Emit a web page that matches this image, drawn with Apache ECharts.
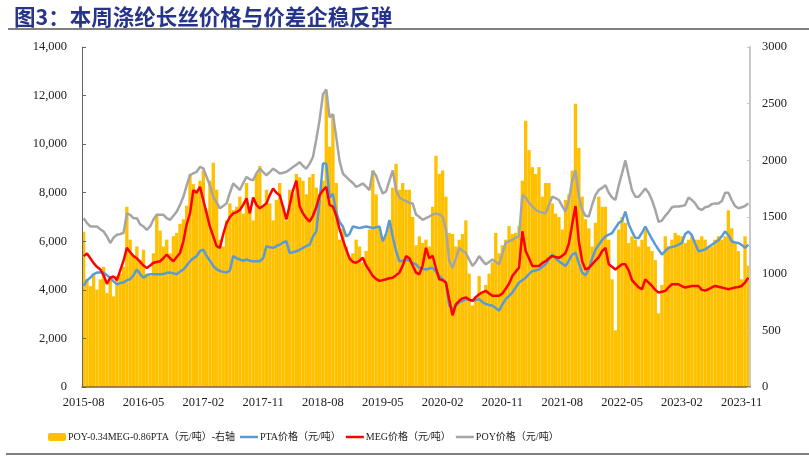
<!DOCTYPE html>
<html><head><meta charset="utf-8">
<script src="https://cdn.jsdelivr.net/npm/echarts@6/dist/echarts.min.js"></script>
<style>html,body{margin:0;padding:0;background:#fff}#c{width:809px;height:459px}</style>
</head><body><div id="c"></div>
<script>
// semi-monthly observations, 2015-08-01 .. 2023-12-01
const startYear = 2015, startMonth = 8, nMonths = 101;
const categories = [];
for (let m = 0; m < nMonths; m++) {
  const y = startYear + Math.floor((startMonth - 1 + m) / 12);
  const mo = ((startMonth - 1 + m) % 12) + 1;
  const mm = (mo < 10 ? '0' : '') + mo;
  categories.push(y + '-' + mm + '-01');
  if (m < nMonths - 1) categories.push(y + '-' + mm + '-16');
}
const spread = [ // POY-0.34MEG-0.86PTA, right axis
1370,950,890,1000,860,950,1060,830,950,800, 980,1000,1060,1590,1300,1150,1240,1120,1210,1000,
980,1180,1520,1380,1240,1300,1180,1330,1360,1440, 1480,1600,1880,1790,1740,1820,1910,1560,1820,1980,
1740,1300,1240,1470,1620,1560,1590,1680,1530,1800, 1590,1470,1880,1950,1600,1740,1620,1470,1650,1800,
1600,1470,1740,1700,1880,1850,1820,1700,1850,1880, 1760,1700,1820,2600,2120,2400,1800,1300,1400,1240,
1150,1180,1300,1240,1100,1200,1390,1910,1700,1400, 1300,1350,1420,1760,1970,1740,1800,1740,1740,1500,
1250,1330,1270,1300,1240,1590,2040,1880,1910,1680, 1360,1350,1240,1300,1350,1470,1000,720,800,980,
830,900,1000,1100,1360,1180,1250,1300,1420,1350, 1360,1420,1820,2350,2090,1940,1880,1940,1680,1800,
1800,1620,1530,1500,1390,1650,1700,1910,2500,2110, 1680,1480,1400,1240,1450,1680,1590,1590,1300,950,
500,1390,1500,1450,1270,1330,1300,1240,1300,1390, 1240,1200,1120,650,900,1330,1240,1300,1360,1340,
1330,1270,1300,1330,1300,1300,1330,1300,1240,1240, 1300,1330,1300,1330,1560,1400,1270,1200,950,1330,
1070];
const pta = [
4160,4400,4500,4650,4710,4710,4710,4600,4500,4350, 4230,4280,4300,4400,4435,4600,4840,4650,4500,4600,
4640,4640,4640,4640,4650,4700,4710,4680,4640,4750, 4840,5000,5180,5300,5390,5600,5660,5390,5200,4980,
4850,4775,4740,4710,4800,5390,5300,5250,5200,5250, 5200,5180,5180,5180,5300,5800,5750,5730,5800,5860,
5950,6000,5520,5550,5590,5650,5730,5800,5860,6200, 6410,7700,9200,9200,7800,7950,7200,6800,6610,6200,
6300,6610,6580,6540,6580,6610,6580,6540,6580,6610, 6000,6300,6880,6200,5600,5180,5200,5250,5200,5115,
5050,4910,4870,4840,4880,4910,4750,4570,4450,4300, 3350,3210,3350,3480,3550,3620,3580,3550,3580,3620,
3500,3415,3380,3350,3250,3140,3400,3620,3750,3890, 4100,4300,4400,4500,4650,4775,4800,4840,4950,5050,
5250,5455,5300,5180,5080,4980,5200,5455,5520,5100, 4700,4600,4840,5300,5650,5860,6050,6200,6270,6340,
6550,6750,6850,7220,6700,6400,6135,6135,6350,6610, 6350,6100,5860,5650,5455,5600,5730,5760,5800,5860,
5930,6300,6400,6250,5900,5590,5620,5660,5760,5860, 5950,6050,6200,6410,6250,6000,5950,5930,5850,5730,
5860];
const meg = [
5390,5500,5300,5100,4950,4840,4600,4250,4500,4550, 4400,4800,5200,5730,5550,5390,5300,5150,5000,4900,
5000,5115,5150,5180,5300,5455,5300,5180,5350,5520, 6000,6700,7150,8100,8000,8240,7700,7150,6600,6200,
5800,5730,6300,6750,7000,7150,7200,7290,7500,7770, 7150,7800,7500,7360,7450,7560,7900,8175,8000,7900,
7400,6900,7500,8110,8500,7430,7150,6950,6815,7050, 7400,7900,8100,8240,7500,7430,7050,6500,6070,5660,
5300,5150,5115,5200,5320,5000,4800,4570,4450,4370, 4400,4435,4480,4500,4600,4710,5000,5390,5300,5000,
4710,4640,5000,5730,5300,5400,4900,4435,4400,4300, 3600,2950,3400,3550,3650,3690,3600,3550,3700,3820,
3900,3960,3850,3755,3755,3755,3850,4050,4250,4570, 4750,4910,6410,5600,5300,4980,4980,4980,5100,5180,
5300,5390,5350,5320,5400,5520,5900,6700,7450,6000, 5180,4840,4900,5050,5200,5350,5590,5730,5050,4950,
4840,4950,5050,5050,4800,4400,4250,4100,4025,4435, 4300,4160,4000,3890,3920,3960,4100,4230,4230,4230,
4150,4095,4130,4160,4160,4160,4000,3970,4025,4100, 4160,4130,4095,4060,4025,4060,4095,4120,4160,4300,
4500];
const poy = [
6950,6750,6610,6610,6610,6500,6400,6200,5930,6150, 6270,6300,6340,7150,7090,6950,6950,6700,6610,6470,
6610,6900,7090,7090,7090,6950,6880,7050,7220,7500, 7830,8300,8720,8800,8860,9060,9000,8650,8300,7830,
7600,7360,7450,7560,8000,8380,8250,8110,8400,8650, 8550,8515,8800,8990,8850,8720,8850,8990,8900,8790,
8820,8860,8950,9060,9150,9260,9100,8990,9200,9470, 10200,11000,12050,12250,11100,11235,10300,9300,8790,8650,
8515,8400,8240,8300,8380,8250,8110,8900,8700,8300, 7970,8050,8500,8920,8100,7800,7720,7650,7580,7560,
7100,7000,6880,6950,7020,7100,7150,7100,7020,6500, 5200,4900,5300,5730,5600,5520,5250,4980,5150,5390,
5200,5050,5150,5250,5150,5050,5500,5930,6000,6070, 6150,6200,7900,7800,7600,7430,7300,7220,7180,7150,
7500,7835,7780,7700,7450,7220,7700,8500,8920,7835, 7300,7050,7020,7500,7900,8110,8200,8310,8000,7800,
7700,8300,8800,9330,8700,8100,7835,7835,8000,8175, 8000,7700,7290,6800,6850,7050,7200,7400,7430,7430,
7450,7495,7800,7700,7560,7350,7290,7400,7430,7530, 7560,7560,7650,8000,8000,7700,7450,7360,7400,7450,
7560];
const seriesNames = ['POY-0.34MEG-0.86PTA（元/吨）-右轴','PTA价格（元/吨）','MEG价格（元/吨）','POY价格（元/吨）'];
const titleText = '图3：本周涤纶长丝价格与价差企稳反弹';

const serif = '"Liberation Serif","Times New Roman","Noto Sans CJK SC",serif';
const legendFontSize = 10;
const legendText = {fontFamily:serif,fontSize:legendFontSize,color:'#222',padding:[0,0,0,-3]};
// measure first legend label so the second legend follows right after it
const mctx = document.createElement('canvas').getContext('2d');
mctx.font = legendFontSize + 'px ' + serif;
const firstW = mctx.measureText(seriesNames[0]).width;
const legend2Left = Math.round(43 + 18 + 2 + firstW + 5);

const chart = echarts.init(document.getElementById('c'), null, {renderer:'canvas'});
chart.setOption({
  animation:false,
  backgroundColor:'#fff',
  title:{text:titleText,left:9,top:1,textStyle:{fontSize:21.5,fontWeight:'bold',color:'#27348B',fontFamily:'"Noto Sans CJK SC",sans-serif'}},
  graphic:[
    {type:'line',shape:{x1:8,y1:29,x2:809,y2:29},style:{stroke:'#7f7f7f',lineWidth:2}},
    {type:'line',shape:{x1:6,y1:454,x2:809,y2:454},style:{stroke:'#7f7f7f',lineWidth:2}}
  ],
  legend:[
    {left:43,top:427,itemWidth:18,itemHeight:8,itemGap:4,textStyle:legendText,data:[seriesNames[0]]},
    {left:legend2Left,top:427,itemWidth:18,itemHeight:2.5,itemGap:5,icon:'rect',textStyle:legendText,data:seriesNames.slice(1)}
  ],
  grid:{left:82,right:59,top:47,bottom:72,containLabel:false},
  xAxis:{type:'category',data:categories,boundaryGap:true,z:5,
    axisLine:{lineStyle:{color:'#7a6a3a',width:1.5}},
    axisTick:{inside:true,length:4,interval:17,alignWithLabel:true,lineStyle:{color:'#555'}},
    axisLabel:{interval:17,margin:9,fontFamily:serif,fontSize:12.5,color:'#222',formatter:v=>v.slice(0,7)},
    splitLine:{show:false}},
  yAxis:[
    {type:'value',min:0,max:14000,interval:2000,position:'left',z:5,
     axisLine:{show:true,lineStyle:{color:'#666'}},
     axisTick:{show:true,inside:true,length:4,lineStyle:{color:'#666'}},
     axisLabel:{margin:15,fontFamily:serif,fontSize:12.5,color:'#222',formatter:v=>v.toLocaleString('en-US')},
     splitLine:{show:false}},
    {type:'value',min:0,max:3000,interval:500,position:'right',z:5,
     axisLine:{show:true,lineStyle:{color:'#c8c8c8',width:2}},
     axisTick:{show:true,inside:true,length:3,lineStyle:{color:'#c8c8c8'}},
     axisLabel:{margin:12,fontFamily:serif,fontSize:12.5,color:'#222',formatter:v=>String(v)},
     splitLine:{show:false}}
  ],
  series:[
    {name:seriesNames[0],type:'bar',yAxisIndex:1,data:spread,barCategoryGap:'0%',itemStyle:{color:'#FFC000'}},
    {name:seriesNames[1],type:'line',yAxisIndex:0,data:pta,symbol:'none',lineStyle:{color:'#5B9BD5',width:2.5},itemStyle:{color:'#5B9BD5'}},
    {name:seriesNames[2],type:'line',yAxisIndex:0,data:meg,symbol:'none',lineStyle:{color:'#FF0000',width:2.5},itemStyle:{color:'#FF0000'}},
    {name:seriesNames[3],type:'line',yAxisIndex:0,data:poy,symbol:'none',lineStyle:{color:'#A5A5A5',width:2.5},itemStyle:{color:'#A5A5A5'}}
  ]
});
</script></body></html>
